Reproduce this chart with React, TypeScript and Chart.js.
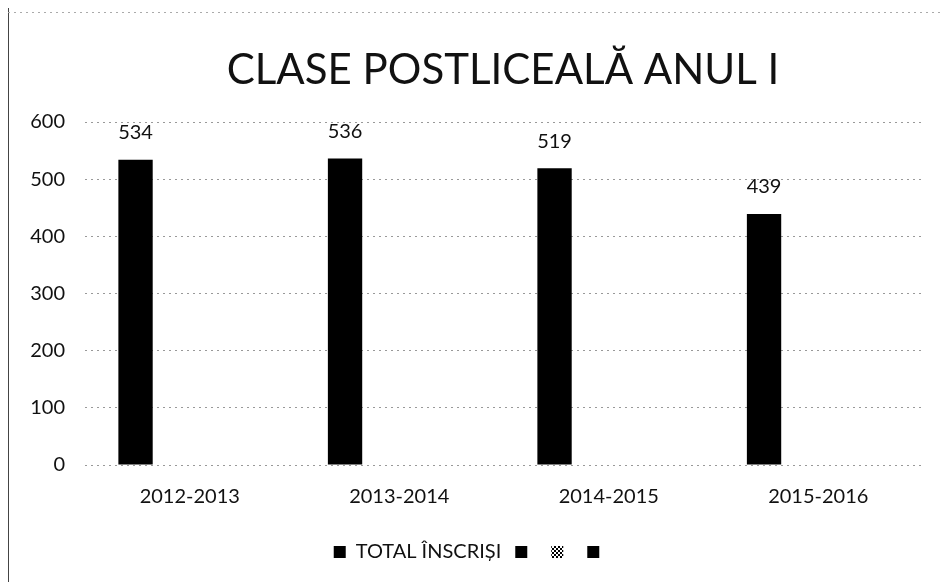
import React, { useEffect, useRef } from "react";
import { Chart, registerables } from "chart.js";

Chart.register(...registerables);

const categories = ["2012-2013", "2013-2014", "2014-2015", "2015-2016"];
const totalInscrisi = [534, 536, 519, 439];
const emptySeries: (number | null)[] = [null, null, null, null];
const seriesLabels = ["TOTAL ÎNSCRIȘI", "", "", ""];
const yTicks = [0, 100, 200, 300, 400, 500, 600];
const titleText = "CLASE POSTLICEALĂ ANUL I";
const FONT = "Lato, 'Open Sans', sans-serif";

function makePattern(): CanvasPattern | string {
  const c = document.createElement("canvas");
  c.width = 4;
  c.height = 4;
  const ctx = c.getContext("2d");
  if (!ctx) return "#777";
  ctx.fillStyle = "#fff";
  ctx.fillRect(0, 0, 4, 4);
  ctx.fillStyle = "#000";
  ctx.fillRect(0, 0, 2, 2);
  ctx.fillRect(2, 2, 2, 2);
  return ctx.createPattern(c, "repeat") || "#777";
}

const valueLabels = {
  id: "valueLabels",
  afterDatasetsDraw(chart: any) {
    const ctx = chart.ctx;
    const meta = chart.getDatasetMeta(0);
    ctx.save();
    ctx.font = `20px ${FONT}`;
    ctx.fillStyle = "#111";
    ctx.textAlign = "center";
    ctx.textBaseline = "middle";
    meta.data.forEach((bar: any, i: number) => {
      ctx.fillText(String(totalInscrisi[i]), bar.x, bar.y - 27);
    });
    ctx.restore();
  },
};

const frame = {
  id: "frame",
  beforeDraw(chart: any) {
    const ctx = chart.ctx;
    ctx.save();
    ctx.fillStyle = "#fff";
    ctx.fillRect(0, 0, chart.width, chart.height);
    ctx.strokeStyle = "#444";
    ctx.lineWidth = 1;
    ctx.beginPath();
    ctx.moveTo(8.5, 8);
    ctx.lineTo(8.5, chart.height);
    ctx.stroke();
    ctx.strokeStyle = "#aaa";
    ctx.setLineDash([2, 4]);
    ctx.beginPath();
    ctx.moveTo(8, 12.5);
    ctx.lineTo(chart.width - 5, 12.5);
    ctx.stroke();
    ctx.setLineDash([]);
    ctx.fillStyle = "#111";
    ctx.font = `42px ${FONT}`;
    ctx.textAlign = "center";
    ctx.textBaseline = "middle";
    ctx.fillText(titleText, 503, 70);
    ctx.restore();
  },
};

export default function App() {
  const ref = useRef<HTMLCanvasElement | null>(null);
  useEffect(() => {
    if (!ref.current) return;
    const pattern = makePattern();
    const chart = new Chart(ref.current, {
      type: "bar",
      data: {
        labels: categories,
        datasets: [
          { label: seriesLabels[0], data: totalInscrisi, backgroundColor: "#000", borderWidth: 0 },
          { label: seriesLabels[1], data: emptySeries, backgroundColor: "#000", borderWidth: 0 },
          { label: seriesLabels[2], data: emptySeries, backgroundColor: pattern as any, borderWidth: 0 },
          { label: seriesLabels[3], data: emptySeries, backgroundColor: "#000", borderWidth: 0 },
        ],
      },
      options: {
        animation: false,
        responsive: false,
        maintainAspectRatio: false,
        layout: { padding: { left: 20, right: 23, top: 122, bottom: 10 } },
        datasets: { bar: { categoryPercentage: 0.69, barPercentage: 0.95 } },
        plugins: {
          title: { display: false },
          legend: {
            position: "bottom",
            labels: {
              color: "#111",
              font: { family: FONT, size: 20 },
              boxWidth: 12,
              boxHeight: 12,
              padding: 14,
            },
          },
          tooltip: { enabled: false },
        },
        scales: {
          x: {
            afterFit(scale: any) {
              scale.height += 7;
            },
            grid: { display: false },
            border: { display: false },
            ticks: { color: "#111", font: { family: FONT, size: 20 }, padding: 12 },
          },
          y: {
            min: 0,
            max: 600,
            afterBuildTicks(scale: any) {
              scale.ticks = yTicks.map((v) => ({ value: v }));
            },
            afterFit(scale: any) {
              scale.width = 65;
            },
            grid: { color: "#999", lineWidth: 1, drawTicks: false },
            border: { display: false, dash: [2, 4] },
            ticks: { color: "#111", font: { family: FONT, size: 20 }, padding: 20 },
          },
        },
      },
      plugins: [frame, valueLabels],
    } as any);
    return () => chart.destroy();
  }, []);
  return (
    <div style={{ position: "fixed", left: 0, top: 0, width: 946, height: 582 }}>
      <canvas ref={ref} width={946} height={582} style={{ display: "block" }} />
    </div>
  );
}
